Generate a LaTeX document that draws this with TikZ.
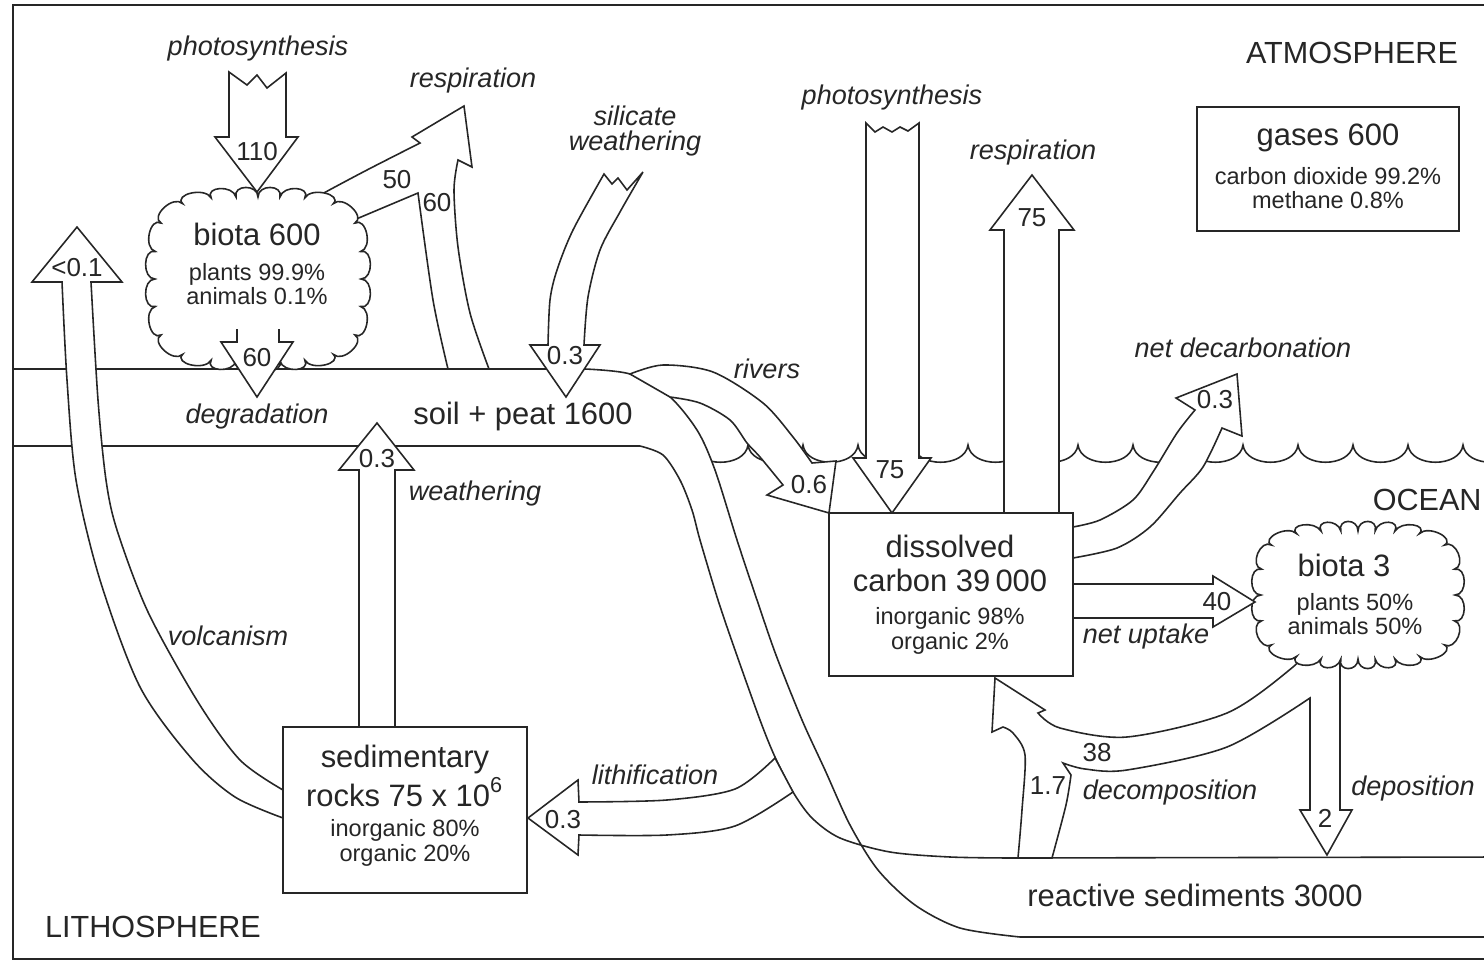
\documentclass[tikz,border=0pt]{standalone}
\usepackage{fontspec}
\setmainfont{Liberation Sans}
\usepackage{tikz}

\begin{document}
\begin{tikzpicture}[
    x=0.1mm, y=-0.1mm,
    line width=0.45pt,
    declare function={squir(\cq,\ca,\cb)=\ca/((abs(cos(\cq)))^4+(abs(sin(\cq))*\ca/\cb)^4)^0.25;},
    flow/.style={draw=black!85, fill=white, line join=miter},
    box/.style={rectangle, draw=black!85, fill=white, inner sep=0pt},
    puff/.style={draw=black!85, fill=white},
    big/.style={font=\fontsize{8.8}{9.7}\selectfont, align=center, inner sep=0pt, text=black!85},
    small/.style={font=\fontsize{6.7}{6.9}\selectfont, align=center, inner sep=0pt, text=black!85},
    proc/.style={font=\fontsize{7.7}{6.9}\selectfont\itshape, align=center, inner sep=0pt, text=black!85},
    num/.style={font=\fontsize{7.4}{8}\selectfont, inner sep=0pt, text=black!85},
    realm/.style={font=\fontsize{8.7}{9.5}\selectfont, inner sep=0pt, text=black!85}
]
\useasboundingbox (0,0) rectangle (1484,963);
\clip (0,0) rectangle (1484,963);

% Frame and sea surface
\draw[black!85] (13,5) rectangle (1500,959);
\draw[black!85] (693,445) \foreach \w in {0,...,14} { .. controls ({696+55*\w},468) and ({745+55*\w},468) .. ({748+55*\w},445) };

% Soil band bending down into the reactive sediments
\draw[flow] (13,369) -- plot[smooth] coordinates {(585,369) (630,374) (668,395) (697,430) (715,470) (737,540) (757,600) (776,655) (802,720) (825,770) (850,825) (878,870) (915,905) (960,928) (1020,937)} -- (1500,937) -- (1500,857)
    -- plot[smooth] coordinates {(1010,858) (950,857) (890,852) (840,838) (812,818) (793,792) (775,757) (760,720) (735,650) (718,600) (700,540) (692,510) (680,480) (663,455) (640,446)} -- (13,446) -- cycle;

% Arrows
\draw[flow] plot[smooth] coordinates {(283,818) (235,797) (192,759) (140,687) (100,580) (76,480) (67,380) (62,282)} -- (32,282) -- (77,227) -- (122,282)
    -- plot[smooth] coordinates {(91,282) (98,400) (106,480) (117,530) (148,612) (198,702) (240,760) (283,790)} -- cycle;
\draw[flow] (359,727) -- (359,470) -- (339,470) -- (377,423) -- (414,470) -- (395,470) -- (395,727) -- cycle;
\draw[flow] plot[smooth] coordinates {(775,758) (735,789) (667,800) (579,802)} -- (578,780) -- (528,818) -- (578,855)
    -- plot[smooth] coordinates {(579,835) (667,835) (735,826) (793,792)} -- cycle;
\draw[flow] (604,174) -- (612,184) -- (618,178) -- (627,190) -- plot[smooth] coordinates {(643,172) (620,212) (600,250) (588,297) (584,345)} -- (600,345) -- (566,397) -- (530,345)
    -- plot[smooth] coordinates {(548,345) (550,300) (557,270) (573,230) (604,174)} -- cycle;
\draw[flow] plot[smooth] coordinates {(300,207) (322,194) (367,170) (420,143)} -- (412,137) -- (464,106) -- (472,167)
    -- plot[smooth] coordinates {(458,160) (454,190) (458,247) (470,313) (489,369)}
    -- plot[smooth] coordinates {(448,369) (433,300) (418,193)} -- (335,228) -- cycle;
\draw[flow] (229,72) -- (247,85) -- (257,75) -- (267,88) -- (286,73) -- (286,137) -- (298,137) -- (257,192) -- (215,137) -- (229,137) -- cycle;
\draw[flow] plot[smooth] coordinates {(630,374) (663,365) (713,372) (763,403) (793,437) (812,463)} -- (836,461) -- (829,513) -- (767,495)
    -- plot[smooth] coordinates {(783,485) (760,457) (747,443) (730,420) (700,403) (670,397)} -- cycle;
\draw[flow] (866,123) -- (875,132) -- (883,127) -- (892,132) -- (900,127) -- (908,131) -- (919,123) -- (919,458) -- (931,458) -- (892,513) -- (853,458) -- (866,458) -- cycle;
\draw[flow] (1004,513) -- (1004,230) -- (990,230) -- (1032,175) -- (1074,230) -- (1059,230) -- (1059,513) -- cycle;
\draw[flow] plot[smooth] coordinates {(1073,527) (1100,520) (1133,500) (1153,472) (1177,433) (1195,410)} -- (1176,398) -- (1237,374) -- (1242,436)
    -- plot[smooth] coordinates {(1222,428) (1203,467) (1180,493) (1150,527) (1117,548) (1073,558)} -- cycle;
\draw[flow] plot[smooth] coordinates {(1305,650) (1293,667) (1227,713) (1127,737) (1060,728) (1038,713)} -- (1045,710) -- (995,678) -- (992,732)
    -- plot[smooth] coordinates {(1003,727) (1013,733) (1025,755) (1022,810) (1018,858)}
    -- plot[smooth] coordinates {(1052,858) (1066,805) (1071,775)}
    -- plot[smooth] coordinates {(1063,763) (1085,769) (1127,770) (1227,747) (1310,698)}
    -- (1310,810) -- (1300,810) -- (1327,855) -- (1352,810) -- (1340,810) -- (1340,650) -- cycle;

% Clouds
\draw[puff] ({258+squir(0,103,82)},279) \foreach \t in {0,15,...,345} {
    .. controls ({258+(squir(\t,103,82)+13)*cos(\t)},{279+(squir(\t,103,82)+13)*sin(\t)})
            and ({258+(squir(\t+15,103,82)+13)*cos(\t+15)},{279+(squir(\t+15,103,82)+13)*sin(\t+15)})
    .. ({258+squir(\t+15,103,82)*cos(\t+15)},{279+squir(\t+15,103,82)*sin(\t+15)}) } -- cycle;
\draw[puff] ({1358+squir(0,97,64)},595) \foreach \t in {0,15,...,345} {
    .. controls ({1358+(squir(\t,97,64)+13)*cos(\t)},{595+(squir(\t,97,64)+13)*sin(\t)})
            and ({1358+(squir(\t+15,97,64)+13)*cos(\t+15)},{595+(squir(\t+15,97,64)+13)*sin(\t+15)})
    .. ({1358+squir(\t+15,97,64)*cos(\t+15)},{595+squir(\t+15,97,64)*sin(\t+15)}) } -- cycle;
\draw[flow] (237,329) -- (237,342) -- (221,342) -- (257,397) -- (293,342) -- (279,342) -- (279,329);
\draw[flow] (1073,584) -- (1213,584) -- (1213,576) -- (1255,602) -- (1213,627) -- (1213,618) -- (1073,618) -- cycle;

% Boxes
\node[box, minimum width=26.2mm, minimum height=12.4mm] (gasesBox) at (1328,169) {};
\node[box, minimum width=24.4mm, minimum height=16.3mm] (dissolvedBox) at (951,594.5) {};
\node[box, minimum width=24.4mm, minimum height=16.6mm] (rocksBox) at (405,810) {};

% Reservoirs
\node[big] (gases) at (1328,138) {gases 600};
\node[small] (gasesPct) at (1328,188) {carbon dioxide 99.2\%\\methane 0.8\%};
\node[big] (biotaLand) at (257,234) {biota 600};
\node[small] (biotaLandPct) at (257,284) {plants 99.9\%\\animals 0.1\%};
\node[big] (soil) at (523,416) {soil + peat 1600};
\node[big] (dissolved) at (950,563) {dissolved\\carbon 39\,000};
\node[small] (dissolvedPct) at (950,631) {inorganic 98\%\\organic 2\%};
\node[big] (biotaSea) at (1344,565) {biota 3};
\node[small] (biotaSeaPct) at (1355,614) {plants 50\%\\animals 50\%};
\node[big] (rocks) at (405,776) {sedimentary\\rocks 75 x 10\textsuperscript{6}};
\node[small] (rocksPct) at (405,843) {inorganic 80\%\\organic 20\%};
\node[big] (sediments) at (1195,895) {reactive sediments 3000};

% Realms
\node[realm] (atmos) at (1352,53) {ATMOSPHERE};
\node[realm, anchor=west] (ocean) at (1372,500) {OCEAN};
\node[realm] (litho) at (153,927) {LITHOSPHERE};

% Processes
\node[proc] (photoLand) at (258,48) {photosynthesis};
\node[proc] (respLand) at (473,80) {respiration};
\node[proc] (silicate) at (635,131) {silicate\\weathering};
\node[proc] (photoSea) at (892,97) {photosynthesis};
\node[proc] (respSea) at (1033,153) {respiration};
\node[proc] (decarb) at (1243,348) {net decarbonation};
\node[proc] (rivers) at (767,369) {rivers};
\node[proc] (degrad) at (257,416) {degradation};
\node[proc] (weather) at (475,493) {weathering};
\node[proc] (volcan) at (228,636) {volcanism};
\node[proc] (lithif) at (655,775) {lithification};
\node[proc] (uptake) at (1146,636) {net uptake};
\node[proc] (decomp) at (1170,792) {decomposition};
\node[proc] (depos) at (1413,788) {deposition};

% Flux values
\node[num] (fPhotoLand) at (257,152) {110};
\node[num] (fResp50) at (397,180) {50};
\node[num] (fResp60) at (437,203) {60};
\node[num] (fDegrad) at (257,358) {60};
\node[num] (fVolcan) at (77,268) {<0.1};
\node[num] (fSilicate) at (565,356) {0.3};
\node[num] (fWeather) at (377,459) {0.3};
\node[num] (fLithif) at (563,820) {0.3};
\node[num] (fRivers) at (809,485) {0.6};
\node[num] (fPhotoSea) at (890,470) {75};
\node[num] (fRespSea) at (1032,218) {75};
\node[num] (fDecarb) at (1215,400) {0.3};
\node[num] (fUptake) at (1217,602) {40};
\node[num] (fDecomp) at (1097,753) {38};
\node[num] (fSedDecomp) at (1048,786) {1.7};
\node[num] (fDepos) at (1325,818) {2};

\end{tikzpicture}
\end{document}
